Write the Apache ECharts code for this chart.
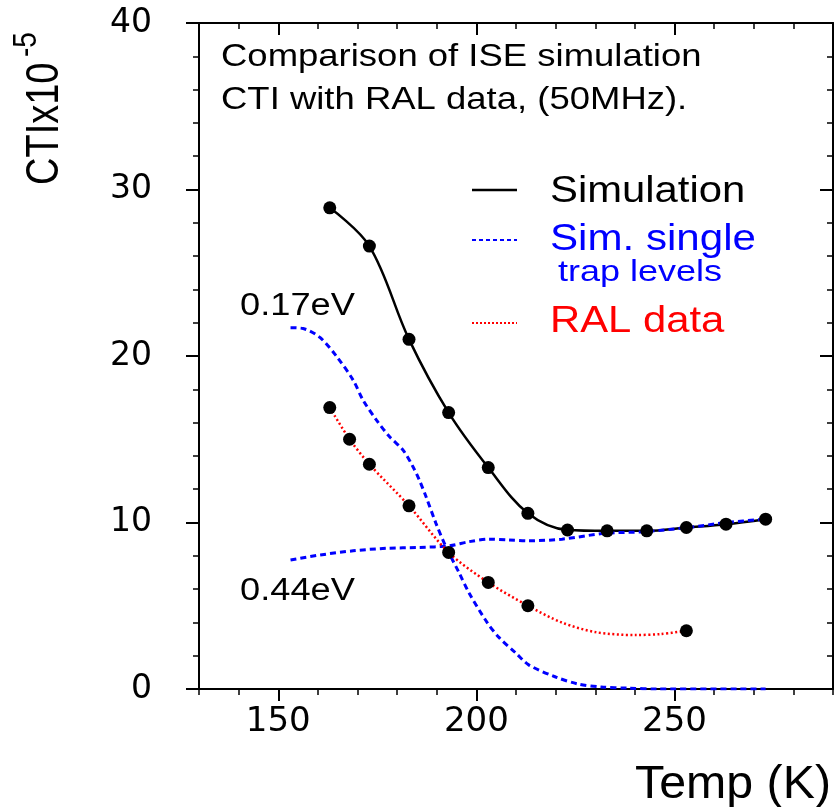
<!DOCTYPE html>
<html>
<head>
<meta charset="utf-8">
<script src="https://cdn.jsdelivr.net/npm/echarts@6/dist/echarts.min.js"></script>
<style>html,body{margin:0;padding:0;background:#fff}#c{width:835px;height:807px}</style>
</head>
<body>
<div id="c"></div>
<script>
// Simulation (black solid + dots)
const simT   = [163, 173, 183, 193, 203, 213, 223, 233, 243, 253, 263, 273];
const simCTI = [28.9, 26.6, 21.0, 16.6, 13.3, 10.55, 9.55, 9.5, 9.5, 9.7, 9.9, 10.2];
// RAL data (black dots) and red dotted curve through them
const ralT   = [163, 168, 173, 183, 193, 203, 213, 253];
const ralCTI = [16.9, 15.0, 13.5, 11.0, 8.2, 6.4, 5.0, 3.5];
const ralCurveT   = [163, 168, 173, 183, 193, 203, 213, 221.5, 230, 240, 246.5, 253];
const ralCurveCTI = [16.9, 15.0, 13.5, 11.0, 8.2, 6.4, 5.0, 4.0, 3.42, 3.24, 3.3, 3.5];
// Single trap level simulations (blue dashed)
const trap017T   = [153.1, 156.3, 160.6, 164.8, 168.9, 171.4, 174.8, 178.1, 181.5, 184, 185.6, 187.3, 189.8, 192.3, 195.7, 198.2, 202.7, 205.7, 210, 213.2, 220, 225.7, 231.5, 238.3, 245.8, 273];
const trap017CTI = [21.7, 21.65, 21.1, 19.95, 18.55, 17.35, 16.15, 15.15, 14.35, 13.35, 12.55, 11.55, 9.95, 8.55, 6.95, 5.75, 4.0, 3.1, 2.15, 1.45, 0.72, 0.3, 0.12, 0.05, 0, 0];
const trap044T   = [153.1, 160.6, 168.9, 177.3, 185.6, 193.2, 198.2, 203.2, 208.2, 213.2, 221.6, 232.4, 242.5, 253.3, 263.3, 272.5];
const trap044CTI = [7.75, 8.05, 8.3, 8.45, 8.5, 8.6, 8.85, 9.0, 8.95, 8.9, 9.0, 9.35, 9.45, 9.7, 10.0, 10.2];
// Axis ticks
const xMajorTicks = [150, 200, 250];
const xMin = 130, xMax = 290, yMin = 0, yMax = 40;

const pairs = (a, b) => a.map((v, i) => [v, b[i]]);
const LF = '"Liberation Sans", Arial, sans-serif';
const DF = '"DejaVu Sans", sans-serif';
const blk = '#000';

const chart = echarts.init(document.getElementById('c'), null, {renderer: 'canvas'});

const baseX = (pos, inside, len, custom, showLine, label) => ({
  type: 'value', position: pos, min: xMin, max: xMax, interval: 10,
  axisLine: {show: showLine, onZero: false, lineStyle: {color: blk, width: 2}},
  axisTick: Object.assign({show: true, inside: inside, length: len, lineStyle: {color: blk, width: custom ? 2 : 1.5}}, custom ? {customValues: custom} : {}),
  axisLabel: label ? {show: true, customValues: custom, color: blk, fontFamily: DF, fontSize: 34, margin: 16} : {show: false},
  splitLine: {show: false}, minorTick: {show: false}
});
const baseY = (pos, inside, label) => ({
  type: 'value', position: pos, min: yMin, max: yMax, interval: 10,
  axisLine: {show: true, onZero: false, lineStyle: {color: blk, width: 2}},
  axisTick: {show: true, inside: inside, length: 13, lineStyle: {color: blk, width: 2}},
  minorTick: {show: true, splitNumber: 5, length: 6, lineStyle: {color: blk, width: 1.5}},
  axisLabel: label ? {show: true, color: blk, fontFamily: DF, fontSize: 33, margin: 47} : {show: false},
  splitLine: {show: false}
});

const option = {
  backgroundColor: '#fff',
  animation: false,
  grid: {left: 199, right: 2, top: 23, bottom: 118, containLabel: false},
  xAxis: [
    baseX('bottom', false, 6, null, true, false),
    baseX('bottom', false, 12, xMajorTicks, false, true),
    baseX('top', true, 6, null, true, false),
    baseX('top', true, 12, xMajorTicks, false, false)
  ],
  yAxis: [
    baseY('left', false, true),
    baseY('right', true, false)
  ],
  series: [
    {type: 'line', name: 'Simulation', data: pairs(simT, simCTI), smooth: 0.35, symbol: 'none',
     lineStyle: {color: blk, width: 2.5}, z: 2},
    {type: 'line', name: '0.17eV', data: pairs(trap017T, trap017CTI), smooth: 0.3, symbol: 'none',
     lineStyle: {color: '#0000ff', width: 3, type: [6, 4]}, z: 3},
    {type: 'line', name: '0.44eV', data: pairs(trap044T, trap044CTI), smooth: 0.3, symbol: 'none',
     lineStyle: {color: '#0000ff', width: 3, type: [6, 4]}, z: 3},
    {type: 'line', name: 'RAL data', data: pairs(ralCurveT, ralCurveCTI), smooth: 0.3, symbol: 'none',
     lineStyle: {color: '#ff0000', width: 2.5, type: [2, 2.5]}, z: 3},
    {type: 'scatter', name: 'Simulation points', data: pairs(simT, simCTI), symbol: 'circle', symbolSize: 13,
     itemStyle: {color: blk, opacity: 1}, z: 5},
    {type: 'scatter', name: 'RAL points', data: pairs(ralT, ralCTI), symbol: 'circle', symbolSize: 13,
     itemStyle: {color: blk, opacity: 1}, z: 5}
  ],
  graphic: [
    // title
    {type: 'text', x: 221, y: 57, scaleX: 1.14, style: {text: 'Comparison of ISE simulation', font: '32px ' + LF, fill: blk, textAlign: 'left', textVerticalAlign: 'middle'}},
    {type: 'text', x: 221, y: 100, scaleX: 1.14, style: {text: 'CTI with RAL data, (50MHz).', font: '32px ' + LF, fill: blk, textAlign: 'left', textVerticalAlign: 'middle'}},
    // legend
    {type: 'line', shape: {x1: 472, y1: 190, x2: 517, y2: 190}, style: {stroke: blk, lineWidth: 2.5}},
    {type: 'text', x: 550, y: 191.5, scaleX: 1.13, style: {text: 'Simulation', font: '37px ' + LF, fill: blk, textAlign: 'left', textVerticalAlign: 'middle'}},
    {type: 'line', shape: {x1: 472, y1: 240, x2: 517, y2: 240}, style: {stroke: '#0000ff', lineWidth: 2, lineDash: [4, 3]}},
    {type: 'text', x: 550, y: 240.5, scaleX: 1.17, style: {text: 'Sim. single', font: '36px ' + LF, fill: '#0000ff', textAlign: 'left', textVerticalAlign: 'middle'}},
    {type: 'text', x: 558, y: 272.5, scaleX: 1.2, style: {text: 'trap levels', font: '30px ' + LF, fill: '#0000ff', textAlign: 'left', textVerticalAlign: 'middle'}},
    {type: 'line', shape: {x1: 472, y1: 323, x2: 517, y2: 323}, style: {stroke: '#ff0000', lineWidth: 2, lineDash: [2, 2]}},
    {type: 'text', x: 550, y: 321.5, scaleX: 1.13, style: {text: 'RAL data', font: '37px ' + LF, fill: '#ff0000', textAlign: 'left', textVerticalAlign: 'middle'}},
    // trap level labels
    {type: 'text', x: 240, y: 306, scaleX: 1.17, style: {text: '0.17eV', font: '31px ' + LF, fill: blk, textAlign: 'left', textVerticalAlign: 'middle'}},
    {type: 'text', x: 240, y: 591, scaleX: 1.17, style: {text: '0.44eV', font: '31px ' + LF, fill: blk, textAlign: 'left', textVerticalAlign: 'middle'}},
    // axis titles
    {type: 'text', x: 831, y: 785, scaleX: 1.05, style: {text: 'Temp (K)', font: '46px ' + LF, fill: blk, textAlign: 'right', textVerticalAlign: 'middle'}},
    {type: 'text', x: 45, y: 185, rotation: Math.PI / 2, scaleY: 1.2, style: {text: 'CTIx10', font: '38px ' + LF, fill: blk, textAlign: 'left', textVerticalAlign: 'middle'}},
    {type: 'text', x: 27, y: 57, rotation: Math.PI / 2, scaleY: 1.2, style: {text: '-5', font: '28px ' + LF, fill: blk, textAlign: 'left', textVerticalAlign: 'middle'}}
  ]
};
chart.setOption(option);
</script>
</body>
</html>
